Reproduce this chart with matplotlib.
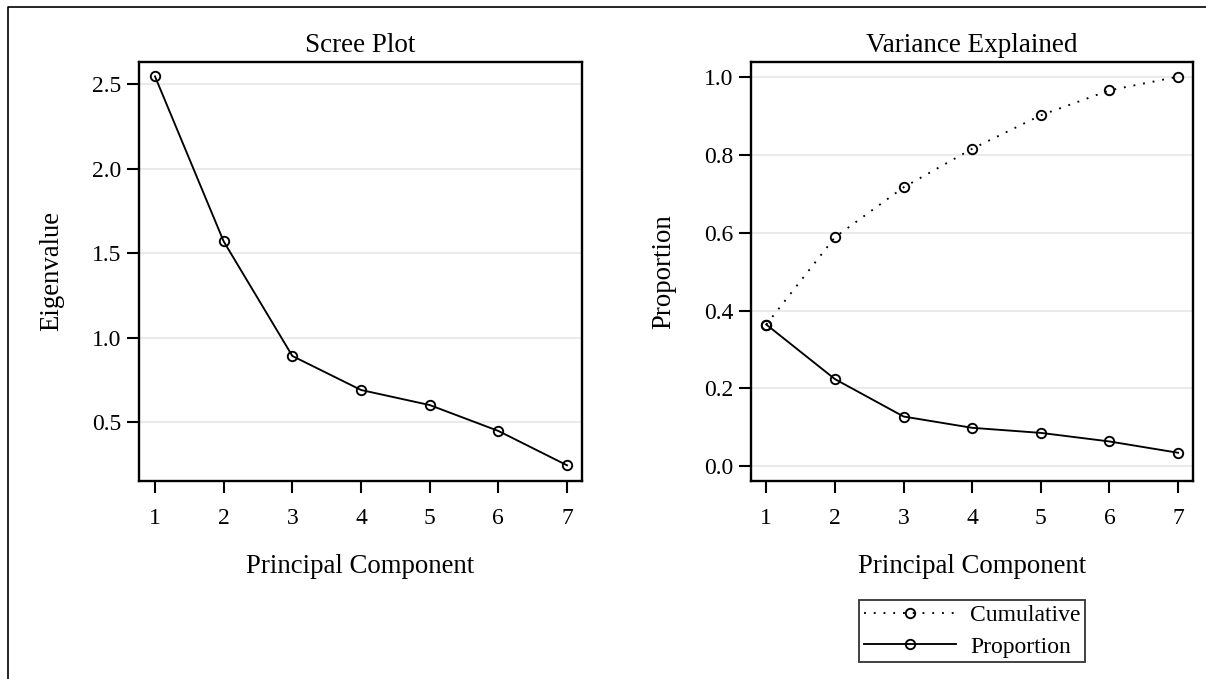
import matplotlib
matplotlib.use("Agg")
import matplotlib.pyplot as plt
from matplotlib.lines import Line2D

plt.rcParams['font.family'] = ['Liberation Serif', 'DejaVu Serif']

components = [1, 2, 3, 4, 5, 6, 7]
eigenvalues = [2.545, 1.570, 0.893, 0.692, 0.603, 0.450, 0.247]
proportion = [0.364, 0.224, 0.128, 0.099, 0.086, 0.064, 0.035]
cumulative = [0.364, 0.588, 0.716, 0.815, 0.901, 0.965, 1.000]

W, H = 1206, 679
fig = plt.figure(figsize=(W / 100, H / 100), dpi=100)


def px_axes(x0, x1, ytop, ybot):
    return fig.add_axes([x0 / W, (H - ybot) / H, (x1 - x0) / W, (ybot - ytop) / H])


TICK_FS = 17
LABEL_FS = 19.3
TITLE_FS = 19.5
LW = 1.35
MS = 6.8
MEW = 1.35
GRID = '#e6e6e6'


def style(ax):
    for s in ax.spines.values():
        s.set_linewidth(1.7)
        s.set_color('black')
    ax.tick_params(axis='both', direction='out', length=8.5, width=1.5,
                   labelsize=TICK_FS, colors='black')
    ax.tick_params(axis='y', pad=4)
    ax.tick_params(axis='x', pad=11)
    ax.grid(axis='y', color=GRID, linewidth=1.2)
    ax.set_axisbelow(True)
    ax.set_xticks(components)


# scree plot
ax1 = px_axes(139, 582, 62, 480.7)
ax1.plot(components, eigenvalues, color='black', lw=LW, marker='o', ms=MS,
         mfc='none', mec='black', mew=MEW)
ax1.set_xlim(0.767, 7.218)
ax1.set_ylim(0.156, 2.630)
ax1.set_yticks([0.5, 1.0, 1.5, 2.0, 2.5])
ax1.set_yticklabels(['0.5', '1.0', '1.5', '2.0', '2.5'])
style(ax1)
ax1.set_title('Scree Plot', fontsize=TITLE_FS, pad=7)
ax1.set_xlabel('Principal Component', fontsize=LABEL_FS, labelpad=18)
ax1.set_ylabel('Eigenvalue', fontsize=LABEL_FS, labelpad=20)

# variance explained
ax2 = px_axes(751, 1193, 62, 480.7)
cum_line, = ax2.plot(components, cumulative, color='black', lw=LW,
                     linestyle=(0, (1, 4.2)), marker='o', ms=MS,
                     mfc='none', mec='black', mew=MEW, label='Cumulative')
prop_line, = ax2.plot(components, proportion, color='black', lw=LW,
                      marker='o', ms=MS, mfc='none', mec='black', mew=MEW,
                      label='Proportion')
ax2.set_xlim(0.777, 7.218)
ax2.set_ylim(-0.0367, 1.0377)
ax2.set_yticks([0.0, 0.2, 0.4, 0.6, 0.8, 1.0])
ax2.set_yticklabels(['0.0', '0.2', '0.4', '0.6', '0.8', '1.0'])
style(ax2)
ax2.set_title('Variance Explained', fontsize=TITLE_FS, pad=7)
ax2.set_xlabel('Principal Component', fontsize=LABEL_FS, labelpad=18)
ax2.set_ylabel('Proportion', fontsize=LABEL_FS, labelpad=20)

leg = fig.legend(handles=[cum_line, prop_line], loc='upper center',
                 bbox_to_anchor=(972 / W, (H - 600) / H), fontsize=17,
                 frameon=True, fancybox=False, shadow=False,
                 handlelength=3.9, handletextpad=0.6, borderpad=0.2,
                 labelspacing=0.42, borderaxespad=0)
leg.get_frame().set_edgecolor('black')
leg.get_frame().set_linewidth(1.3)

# outer border (left and top edges visible)
fig.add_artist(Line2D([8 / W, 8 / W, 1.0], [0.0, (H - 7) / H, (H - 7) / H],
                      transform=fig.transFigure, color='black', lw=1.2))

fig.savefig('out.png', dpi=100)
